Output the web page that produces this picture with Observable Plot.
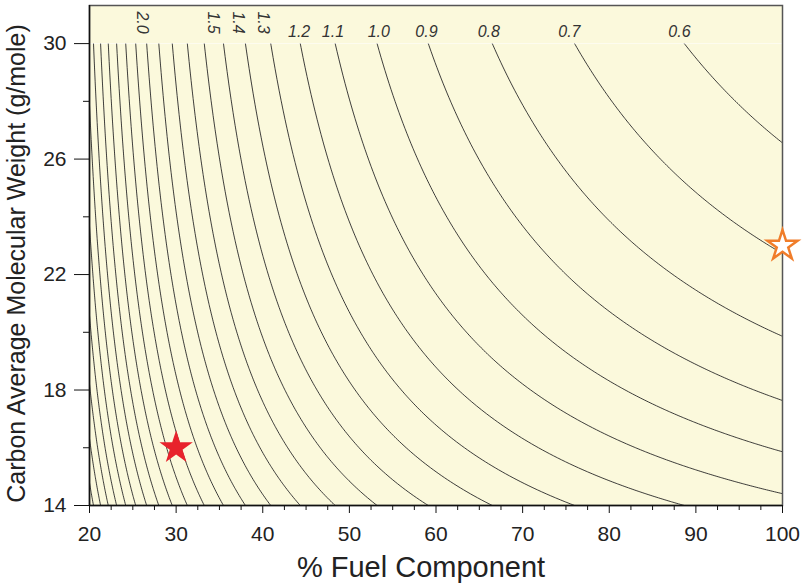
<!DOCTYPE html>
<html>
<head>
<meta charset="utf-8">
<script src="https://cdn.jsdelivr.net/npm/d3@7"></script>
<script src="https://cdn.jsdelivr.net/npm/@observablehq/plot@0.6"></script>
<style>
  html, body { margin: 0; padding: 0; background: #ffffff; }
  #chart { width: 804px; height: 585px; }
</style>
</head>
<body>
<div id="chart"></div>
<script>
// ---- data ----
// contour levels drawn (step 0.1)
const levels = [0.6, 0.7, 0.8, 0.9, 1.0, 1.1, 1.2, 1.3, 1.4, 1.5, 1.6, 1.7, 1.8, 1.9,
                2.0, 2.1, 2.2, 2.3, 2.4, 2.5, 2.6, 2.7, 2.8, 2.9, 3.0, 3.1, 3.2, 3.3];
// surface fitted to the reference contours: value = a/x + k*(1/y - 1/yRef)
const fieldA = 53.2;
const fieldK = 15.75;
const fieldRefY = 30;
// contour labels along the top and their x position (% fuel component)
const labelText = ["2.0", "1.5", "1.4", "1.3", "1.2", "1.1", "1.0", "0.9", "0.8", "0.7", "0.6"];
const labelX = [26.1, 34.3, 37.1, 40.0, 44.2, 48.1, 53.4, 58.9, 66.1, 75.4, 88.1];
// markers
const markerX = [30, 100];
const markerY = [16, 23];
// axes
const xTicks = [20, 30, 40, 50, 60, 70, 80, 90, 100];
const xMinorTicks = [22.5, 25, 27.5, 32.5, 35, 37.5, 42.5, 45, 47.5, 52.5, 55, 57.5,
                     62.5, 65, 67.5, 72.5, 75, 77.5, 82.5, 85, 87.5, 92.5, 95, 97.5];
const yTicks = [14, 18, 22, 26, 30];
const yMinorTicks = [16, 20, 24, 28];
const xTitle = "% Fuel Component";
const yTitle = "Carbon Average Molecular Weight (g/mole)";

const font = "'Liberation Sans', Arial, Helvetica, sans-serif";
const bg = "#fbf9dc";
const yTop = 31.32;

const chart = Plot.plot({
  width: 804,
  height: 585,
  marginLeft: 89,
  marginRight: 22,
  marginTop: 5,
  marginBottom: 80,
  style: { fontFamily: font, background: "#ffffff", color: "#222" },
  x: { domain: [20, 100] },
  y: { domain: [14, yTop] },
  marks: [
    Plot.frame({ fill: bg, stroke: "none" }),
    Plot.contour({
      x1: 18, x2: 102, y1: 12.5, y2: 31.2,
      value: (x, y) => fieldA / x + fieldK * (1 / y - 1 / fieldRefY),
      thresholds: levels,
      fill: "none",
      stroke: "#262626",
      strokeWidth: 0.9,
      clip: true
    }),
    // band above y = 30 holds the contour labels
    Plot.rect([0], { x1: 20, x2: 100, y1: fieldRefY, y2: yTop, fill: bg }),
    Plot.ruleY([fieldRefY], { stroke: "#ffffff", strokeOpacity: 0.6, strokeWidth: 1 }),
    Plot.text(labelText, {
      x: (d, i) => labelX[i],
      y: (d, i) => (i < 4 ? 30.73 : 30.42),
      text: d => d,
      rotate: (d, i) => (i < 4 ? 90 : 0),
      fontStyle: "italic",
      fontSize: 16,
      fill: "#333"
    }),
    Plot.frame({ stroke: "#555", strokeWidth: 1.5 }),
    Plot.ruleX([20], { stroke: "#111", strokeWidth: 1.5 }),
    Plot.ruleY([14], { stroke: "#111", strokeWidth: 1.5 }),
    Plot.axisX({ ticks: xTicks, tickSize: 8, tickPadding: 13, fontSize: 21, label: null, stroke: "#111" }),
    Plot.axisX({ ticks: xMinorTicks, tickSize: 5, text: null, label: null, stroke: "#111" }),
    Plot.axisY({ ticks: yTicks, tickSize: 15, tickPadding: 8, fontSize: 21, label: null, stroke: "#111" }),
    Plot.axisY({ ticks: yMinorTicks, tickSize: 6, text: null, label: null, stroke: "#111" }),
    Plot.text([xTitle], {
      frameAnchor: "bottom", dy: 62, dx: -15, lineAnchor: "middle", textAnchor: "middle",
      text: d => d, fontSize: 29, fill: "#222"
    }),
    Plot.text([yTitle], {
      frameAnchor: "left", dx: -73, dy: 8, rotate: -90, textAnchor: "middle", lineAnchor: "middle",
      text: d => d, fontSize: 25, fill: "#222"
    }),
    Plot.dot(markerX.slice(0, 1), {
      x: d => d, y: (d, i) => markerY[i],
      symbol: "star", r: 10.5, fill: "#e8232c", stroke: "none"
    }),
    Plot.dot(markerX.slice(1), {
      x: d => d, y: (d, i) => markerY[i + 1],
      symbol: "star", r: 9.5, fill: "#ffffff", stroke: "#f07d2a", strokeWidth: 2.5
    })
  ]
});
document.getElementById("chart").appendChild(chart);
</script>
</body>
</html>
